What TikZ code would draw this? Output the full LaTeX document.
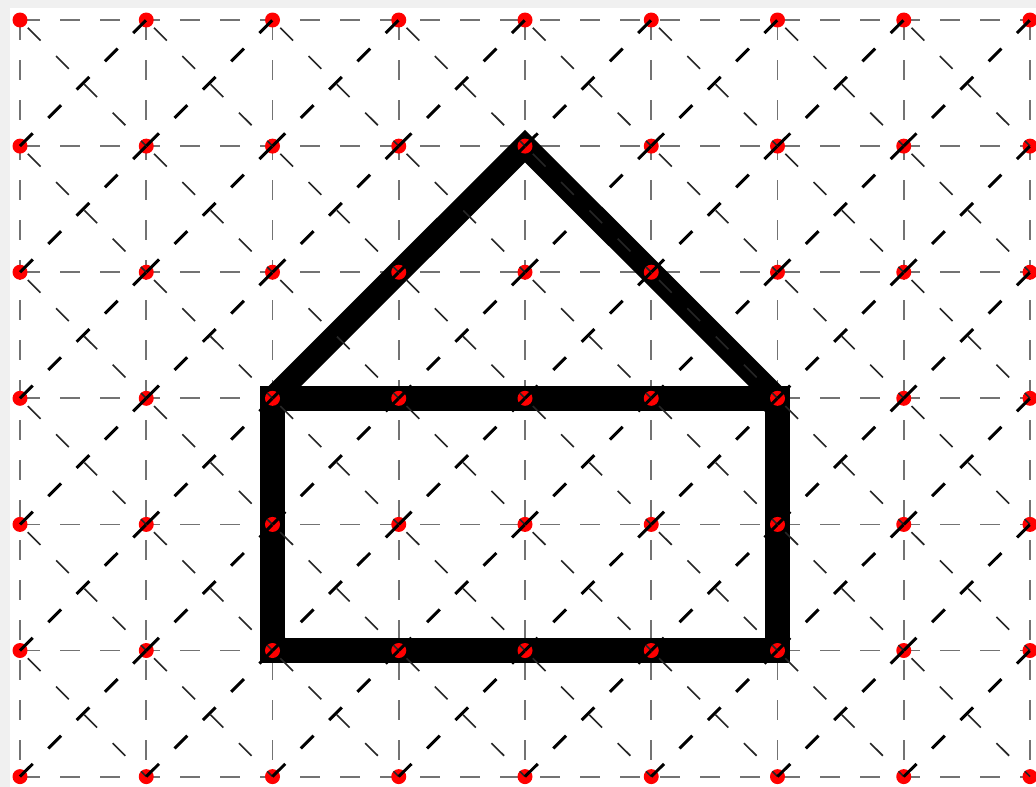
\documentclass[tikz,border=0pt]{standalone}
\begin{document}
\begin{tikzpicture}[x=1pt,y=-1pt,
  gridline/.style={draw=black!55, line width=1.8pt, dash pattern=on 20pt off 20pt},
  slashline/.style={draw=black, line width=3pt, dash pattern=on 18pt off 22pt},
  backline/.style={draw=black!85, line width=1.6pt, dash pattern=on 18pt off 22pt, dash phase=29pt},
  dot/.style={circle, fill=red, inner sep=0pt, minimum size=15pt},
  wall/.style={draw=black, line width=25pt, line join=miter},
  roof/.style={draw=black, line width=23pt, line join=miter}]
\useasboundingbox (0,0) rectangle (1036,787);
\fill[black!6] (0,0) rectangle (1036,787);
\fill[white] (10,8) rectangle (1036,787);
\foreach \i in {0,...,8}{
  \foreach \j in {0,...,6}{
    \coordinate (g\i-\j) at ({20+126.25*\i},{20+126.1*\j});
  }
}
\foreach \i in {0,...,8}{\draw[gridline] (g\i-0) -- (g\i-6);}
\foreach \j in {0,...,6}{\draw[gridline] (g0-\j) -- (g8-\j);}
\draw[roof] (g2-3) -- (g4-1) -- (g6-3);
\draw[wall] (g2-3) -- (g6-3) -- (g6-5) -- (g2-5) -- cycle;
\foreach \i in {0,...,8}{
  \foreach \j in {0,...,6}{
    \node[dot] (d\i-\j) at (g\i-\j) {};
  }
}
\foreach \i in {0,...,7}{
  \foreach \j in {0,...,5}{
    \pgfmathtruncatemacro{\ip}{\i+1}
    \pgfmathtruncatemacro{\jp}{\j+1}
    \draw[backline] (g\i-\j) -- (g\ip-\jp);
    \draw[slashline] (g\i-\jp) -- (g\ip-\j);
  }
}
\end{tikzpicture}
\end{document}
